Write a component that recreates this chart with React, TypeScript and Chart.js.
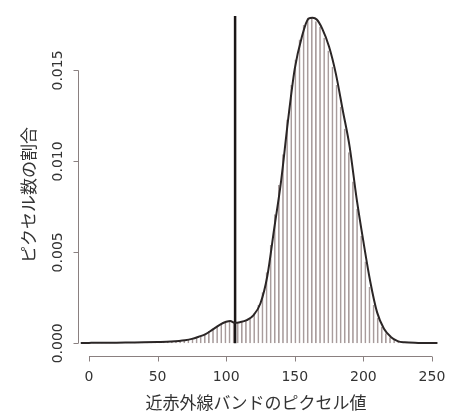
import React, { useEffect, useRef } from "react";
import { Chart, registerables } from "chart.js";

Chart.register(...registerables);

// Histogram: bins of width 3 starting at 0 (proportion of pixels per bin)
const binStart = 0;
const binWidth = 3;
const histValues = [
  0.00002, 0.00002, 0.00002, 0.00002, 0.00003, 0.00003, 0.00003, 0.00003, 0.00003, 0.00004,
  0.00004, 0.00004, 0.00004, 0.00005, 0.00005, 0.00006, 0.00007, 0.00007, 0.00008, 0.00009,
  0.00011, 0.00013, 0.00015, 0.00018, 0.00022, 0.00027, 0.00034, 0.00043, 0.00053, 0.00067,
  0.00083, 0.00098, 0.0011, 0.0012, 0.00121, 0.00112, 0.00116, 0.0012, 0.00128, 0.00142,
  0.00165, 0.0021, 0.0028, 0.0039, 0.0054, 0.0071, 0.0087, 0.0104, 0.0123, 0.0142,
  0.0156, 0.0167, 0.0175, 0.0179, 0.0179, 0.0177, 0.0174, 0.0168, 0.0161, 0.0152,
  0.0142, 0.013, 0.0118, 0.0105, 0.0089, 0.0074, 0.0059, 0.0045, 0.0031, 0.0021,
  0.0014, 0.0009, 0.00055, 0.00033, 0.00018, 0.0001, 0.00006, 0.00004, 0.00003, 0.00002,
  0.00001, 0.00001, 0.00001, 0.00001, 0.00001,
];

// Kernel density curve
const densityX = [
  -6, 0, 10, 20, 30, 40, 50, 60, 70, 75, 80, 85, 90, 95, 100, 103, 106, 110, 115, 120,
  125, 130, 135, 140, 145, 150, 155, 160, 163, 166, 170, 175, 180, 185, 190, 195, 200,
  205, 210, 215, 220, 225, 230, 240, 254,
];
const densityY = [
  0.00001, 0.00002, 0.00003, 0.00003, 0.00004, 0.00005, 0.00007, 0.0001, 0.00017, 0.00024,
  0.00036, 0.0005, 0.00075, 0.001, 0.00118, 0.00123, 0.00113, 0.00116, 0.00127, 0.00155,
  0.0022, 0.0037, 0.0063, 0.0089, 0.0122, 0.0151, 0.0168, 0.01785, 0.0179, 0.0178,
  0.0173, 0.0163, 0.0148, 0.0128, 0.0108, 0.008, 0.0056, 0.0034, 0.0017, 0.0008,
  0.00035, 0.00012, 0.00005, 0.00002, 0.00001,
];

// Threshold line
const thresholdX = 106.5;
const thresholdTop = 0.018;

const xTicks = [0, 50, 100, 150, 200, 250];
const yTicks = [0, 0.005, 0.01, 0.015];
const yTickLabels = ["0.000", "0.005", "0.010", "0.015"];
const xTitle = "近赤外線バンドのピクセル値";
const yTitle = "ピクセル数の割合";

const NUM_FONT = '14px "DejaVu Sans", sans-serif';
const JP_FONT = '17px "Noto Sans CJK JP", sans-serif';
const TEXT_COLOR = "#333";
const AXIS_COLOR = "#8a8080";

const axesPlugin = {
  id: "rAxes",
  afterDraw(chart: any) {
    const ctx = chart.ctx;
    const xs = chart.scales.x;
    const ys = chart.scales.y;
    const area = chart.chartArea;
    ctx.save();
    ctx.strokeStyle = AXIS_COLOR;
    ctx.lineWidth = 1;
    // x axis
    const axY = Math.round(area.bottom) + 0.5;
    ctx.beginPath();
    ctx.moveTo(xs.getPixelForValue(xTicks[0]), axY);
    ctx.lineTo(xs.getPixelForValue(xTicks[xTicks.length - 1]), axY);
    xTicks.forEach((t) => {
      const px = Math.round(xs.getPixelForValue(t)) + 0.5;
      ctx.moveTo(px, axY);
      ctx.lineTo(px, axY + 5);
    });
    ctx.stroke();
    // y axis
    const axX = Math.round(area.left) + 0.5;
    ctx.beginPath();
    ctx.moveTo(axX, ys.getPixelForValue(yTicks[0]));
    ctx.lineTo(axX, ys.getPixelForValue(yTicks[yTicks.length - 1]));
    yTicks.forEach((t) => {
      const py = Math.round(ys.getPixelForValue(t)) + 0.5;
      ctx.moveTo(axX, py);
      ctx.lineTo(axX - 5, py);
    });
    ctx.stroke();

    ctx.fillStyle = TEXT_COLOR;
    ctx.font = NUM_FONT;
    ctx.textAlign = "center";
    ctx.textBaseline = "middle";
    xTicks.forEach((t) => {
      ctx.fillText(String(t), xs.getPixelForValue(t), axY + 21);
    });
    yTicks.forEach((t, i) => {
      ctx.save();
      ctx.translate(axX - 20, ys.getPixelForValue(t));
      ctx.rotate(-Math.PI / 2);
      ctx.fillText(yTickLabels[i], 0, 0);
      ctx.restore();
    });

    ctx.font = JP_FONT;
    ctx.fillText(xTitle, 256, 403);
    ctx.save();
    ctx.translate(29, 195);
    ctx.rotate(-Math.PI / 2);
    ctx.fillText(yTitle, 0, 0);
    ctx.restore();
    ctx.restore();
  },
};

export default function App() {
  const ref = useRef<HTMLCanvasElement | null>(null);
  useEffect(() => {
    if (!ref.current) return;
    const histData = histValues.map((v, i) => ({ x: binStart + binWidth * (i + 0.5), y: v }));
    const densData = densityX.map((x, i) => ({ x, y: densityY[i] }));
    const chart = new Chart(ref.current, {
      type: "bar",
      data: {
        datasets: [
          {
            type: "line",
            data: densData,
            borderColor: "#2b2626",
            borderWidth: 2,
            pointRadius: 0,
            fill: false,
            cubicInterpolationMode: "monotone",
            order: 0,
          } as any,
          {
            type: "line",
            data: [
              { x: thresholdX, y: 0 },
              { x: thresholdX, y: thresholdTop },
            ],
            borderColor: "#1a1616",
            borderWidth: 2.5,
            pointRadius: 0,
            fill: false,
            tension: 0,
            order: 1,
          } as any,
          {
            type: "bar",
            data: histData,
            backgroundColor: "rgba(0,0,0,0)",
            borderColor: "#a89c9c",
            borderWidth: { left: 1, right: 0, top: 0, bottom: 0 },
            borderSkipped: false,
            barPercentage: 1,
            categoryPercentage: 1,
            order: 2,
          } as any,
        ],
      },
      options: {
        responsive: false,
        maintainAspectRatio: false,
        animation: false,
        devicePixelRatio: 1,
        layout: { padding: { left: 78, right: 5.3, top: 5, bottom: 59 } },
        plugins: { legend: { display: false }, tooltip: { enabled: false } },
        scales: {
          x: { type: "linear", min: -8, max: 260, offset: false, display: false },
          y: { type: "linear", min: -0.0007, max: 0.0186, display: false },
        },
      },
      plugins: [axesPlugin],
    });
    return () => chart.destroy();
  }, []);
  return (
    <div style={{ position: "absolute", left: 0, top: 0, width: 451, height: 415, background: "#fff" }}>
      <canvas ref={ref} width={451} height={415} />
    </div>
  );
}
